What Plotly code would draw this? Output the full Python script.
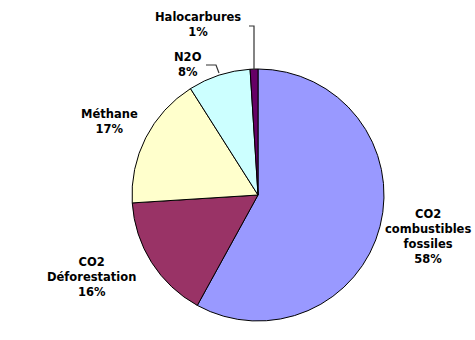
import plotly.graph_objects as go

W, H = 475, 340

# Data
labels = ["CO2<br>combustibles<br>fossiles", "CO2<br>Déforestation", "Méthane", "N2O", "Halocarbures"]
values = [58, 16, 17, 8, 1]
colors = ["#9999FF", "#993366", "#FFFFCC", "#CCFFFF", "#660066"]

# Label anchor positions (pixels, top-left origin) for annotations
label_pos = [(428, 236), (91, 277), (109, 121), (188, 64), (198, 25)]

cx, cy, r = 258, 195, 126

fig = go.Figure(go.Pie(
    labels=labels,
    values=values,
    marker=dict(colors=colors, line=dict(color="#000000", width=1)),
    sort=False,
    direction="clockwise",
    rotation=0,
    textinfo="none",
    hoverinfo="label+percent",
    showlegend=False,
    domain=dict(x=[(cx - r) / W, (cx + r) / W], y=[1 - (cy + r) / H, 1 - (cy - r) / H]),
))

annotations = []
for lab, v, (px, py) in zip(labels, values, label_pos):
    annotations.append(dict(
        x=px / W, y=1 - py / H, xref="paper", yref="paper",
        text=f"<b>{lab}<br>{v}%</b>",
        showarrow=False, align="center",
        font=dict(family="DejaVu Sans", size=11.5, color="#000000"),
        xanchor="center", yanchor="middle",
    ))

def P(x, y):
    return f"{x / W} {1 - y / H}"

shapes = [
    # Halocarbures leader line
    dict(type="path", xref="paper", yref="paper",
         path=f"M {P(249, 26)} L {P(254, 26)} L {P(254, 70)}",
         line=dict(color="#333333", width=1.2)),
    # N2O leader line
    dict(type="path", xref="paper", yref="paper",
         path=f"M {P(206, 65)} L {P(216, 65)} L {P(219, 73)}",
         line=dict(color="#333333", width=1.2)),
]

fig.update_layout(
    width=W, height=H,
    margin=dict(l=0, r=0, t=0, b=0),
    paper_bgcolor="#FFFFFF",
    plot_bgcolor="#FFFFFF",
    annotations=annotations,
    shapes=shapes,
)

fig.write_html("out.html")
